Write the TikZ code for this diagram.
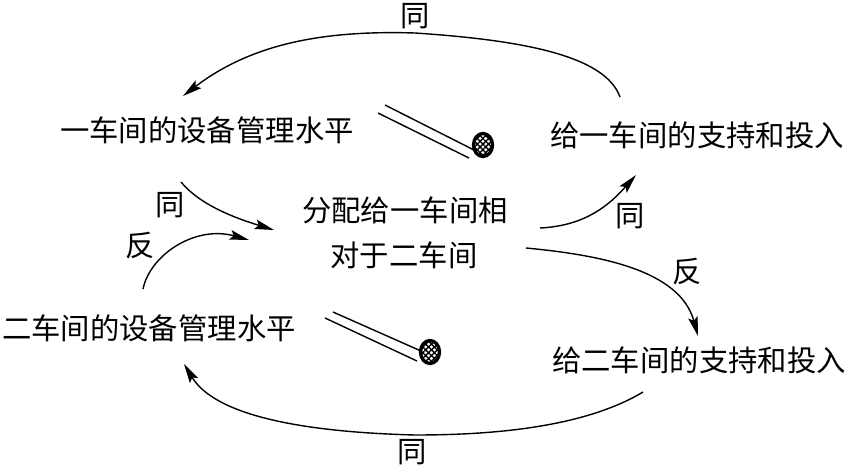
\documentclass[tikz,border=0pt]{standalone}
\usepackage{fontspec}
\newfontfamily\cjk{Noto Sans CJK SC}
\usetikzlibrary{arrows.meta,patterns.meta}
\begin{document}
\begin{tikzpicture}[x=0.02cm,y=-0.02cm,
  lbl/.style={font=\cjk\fontsize{16.7pt}{20pt}\selectfont, inner sep=0pt},
  conn/.style={line width=0.8pt, -{Stealth[length=11pt,width=5.5pt,inset=2pt]}},
  rail/.style={line width=0.8pt},
  hatchA/.style={pattern={Lines[angle=45,distance=2.3pt,line width=0.8pt]}},
  hatchB/.style={pattern={Lines[angle=-45,distance=2.3pt,line width=0.8pt]}},
  ring/.style={line width=1.9pt}]
\useasboundingbox (0,0) rectangle (850,467);
% main texts
\node[lbl] (a1) at (207,130) {一车间的设备管理水平};
\node[lbl] (b1) at (697,135) {给一车间的支持和投入};
\node[lbl] (c1) at (405,210) {分配给一车间相};
\node[lbl] (c2) at (404,255) {对于二车间};
\node[lbl] (a2) at (149,328) {二车间的设备管理水平};
\node[lbl] (b2) at (699,360) {给二车间的支持和投入};
% sign labels
\node[lbl] (l1) at (415,16) {同};
\node[lbl] (l2) at (170,205) {同};
\node[lbl] (l3) at (140,246) {反};
\node[lbl] (l4) at (630,216) {同};
\node[lbl] (l5) at (687,272) {反};
\node[lbl] (l6) at (412,452) {同};
% connector end points
\coordinate (t0) at (620,97);
\coordinate (t1) at (183,96);
\coordinate (p0) at (181,182);
\coordinate (p1) at (274,230);
\coordinate (q0) at (143,289);
\coordinate (q1) at (249,240);
\coordinate (r0) at (540,228);
\coordinate (r1) at (636,175);
\coordinate (s0) at (526,248);
\coordinate (s1) at (698,336);
\coordinate (u0) at (643,392);
\coordinate (u1) at (184,364);
% connectors
\draw[conn] (t0) .. controls (605,55) and (520,40) .. (415,33)
            .. controls (320,30) and (250,45) .. (t1);
\draw[conn] (p0) .. controls (200,205) and (235,218) .. (p1);
\draw[conn] (q0) .. controls (150,255) and (195,225) .. (q1);
\draw[conn] (r0) .. controls (580,226) and (605,210) .. (r1);
\draw[conn] (s0) .. controls (600,255) and (680,270) .. (s1);
\draw[conn] (u0) .. controls (580,430) and (480,435) .. (415,435)
            .. controls (300,432) and (215,415) .. (u1);
% top rails with hatched disc
\coordinate (h1) at (483,145);
\draw[rail] (385,105) -- (474,150);
\draw[rail] (378,113) -- (469,158);
\path[hatchA] (h1) ellipse [x radius=9.5, y radius=11.5];
\path[hatchB] (h1) ellipse [x radius=9.5, y radius=11.5];
\draw[ring] (h1) ellipse [x radius=9.5, y radius=11.5];
% bottom rails with hatched disc
\coordinate (h2) at (430,352);
\draw[rail] (333,312) -- (421,351);
\draw[rail] (325,318) -- (417,361);
\path[hatchA] (h2) ellipse [x radius=9.5, y radius=11.5];
\path[hatchB] (h2) ellipse [x radius=9.5, y radius=11.5];
\draw[ring] (h2) ellipse [x radius=9.5, y radius=11.5];
\end{tikzpicture}
\end{document}
